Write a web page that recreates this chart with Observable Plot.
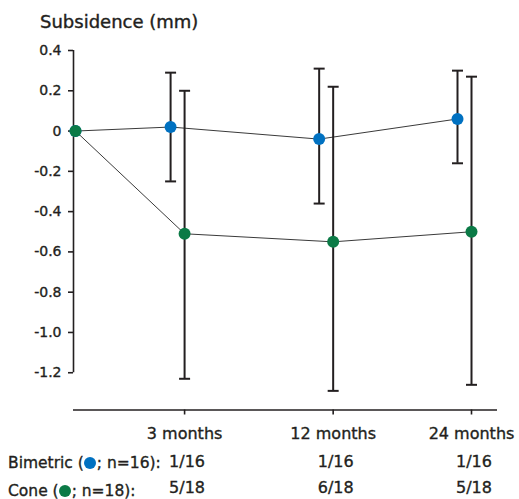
<!DOCTYPE html>
<html>
<head>
<meta charset="utf-8">
<script src="https://cdn.jsdelivr.net/npm/d3@7"></script>
<script src="https://cdn.jsdelivr.net/npm/@observablehq/plot@0.6"></script>
<style>
  html, body { margin: 0; padding: 0; background: #fff; }
  #wrap { position: relative; width: 519px; height: 499px; overflow: hidden; font-family: "DejaVu Sans", sans-serif; color: #231f20; }
  #title { position: absolute; left: 40px; top: 13px; font-size: 18px; line-height: 18px; white-space: nowrap; -webkit-text-stroke: 0.4px #231f20; }
  .row { position: absolute; left: 8px; font-size: 15.5px; line-height: 14px; white-space: nowrap; -webkit-text-stroke: 0.35px #231f20; }
  .dotk { display: inline-block; width: 12px; height: 12px; border-radius: 50%; margin: 0 0.5px; vertical-align: -1px; }
  #chart svg text { stroke: #231f20; stroke-width: 0.35px; }
</style>
</head>
<body>
<div id="wrap">
  <div id="chart"></div>
  <div id="title">Subsidence (mm)</div>
</div>
<script>
// ---- data ----
const months = [0, 3, 12, 24];
const bimetricMean = [0, 0.02, -0.04, 0.06];
const bimetricLow  = [null, -0.25, -0.36, -0.16];
const bimetricHigh = [null, 0.29, 0.31, 0.30];
const coneMean = [0, -0.51, -0.55, -0.50];
const coneLow  = [null, -1.23, -1.29, -1.26];
const coneHigh = [null, 0.20, 0.22, 0.27];

const tickMonths = [3, 12, 24];
const tickLabels = ["3 months", "12 months", "24 months"];
const bimetricRatio = ["1/16", "1/16", "1/16"];
const coneRatio = ["5/18", "6/18", "5/18"];
const yTicks = [0.4, 0.2, 0, -0.2, -0.4, -0.6, -0.8, -1.0, -1.2];
const seriesNames = ["Bimetric", "Cone"];
const seriesN = [16, 18];

// ---- style ----
const ink = "#231f20";
const blue = "#0071c1";
const green = "#0b7a46";
const blueShift = -14;

const W = 519, H = 499;
const yDomain = [-1.385, 0.4];
const xOpts = {type: "pow", exponent: 0.62, domain: [0, 24], range: [75, 471]};
const sx = Plot.scale({x: xOpts});

function build(mean, lo, hi) {
  return months.map((m, i) => ({month: m, mean: mean[i], lo: lo[i], hi: hi[i]}));
}
const bim = build(bimetricMean, bimetricLow, bimetricHigh);
const cone = build(coneMean, coneLow, coneHigh);
const bimErr = bim.filter(d => d.lo != null);
const coneErr = cone.filter(d => d.lo != null);

const bimX = d => d.month === 0 ? 0 : sx.invert(sx.apply(d.month) + blueShift);
const coneX = d => d.month;

const capSymbol = {
  draw(ctx, size) {
    const w = Math.sqrt(size / Math.PI);
    ctx.moveTo(-w, 0);
    ctx.lineTo(w, 0);
  }
};

function errMarks(data, xf) {
  return [
    Plot.ruleX(data, {x: xf, y1: "lo", y2: "hi", stroke: ink, strokeWidth: 2}),
    Plot.dot(data, {x: xf, y: "lo", symbol: capSymbol, r: 5.5, fill: "none", stroke: ink, strokeWidth: 2}),
    Plot.dot(data, {x: xf, y: "hi", symbol: capSymbol, r: 5.5, fill: "none", stroke: ink, strokeWidth: 2})
  ];
}

const chart = Plot.plot({
  width: W,
  height: H,
  marginLeft: 73,
  marginRight: 22,
  marginTop: 50,
  marginBottom: 89.5,
  style: {fontFamily: "DejaVu Sans, sans-serif", color: ink, background: "#fff"},
  x: xOpts,
  y: {domain: yDomain},
  marks: [
    Plot.axisY({ticks: yTicks, tickFormat: d => d === 0 ? "0" : d.toFixed(1), tickSize: 5, tickPadding: 7, fontSize: 14, label: null, stroke: ink, strokeWidth: 1.6}),
    Plot.ruleX([0], {y1: yTicks[yTicks.length - 1], y2: yTicks[0], dx: -2, stroke: ink, strokeWidth: 1.6}),
    Plot.ruleY([yDomain[0]], {stroke: ink, strokeWidth: 1.6}),
    Plot.axisX({ticks: tickMonths, tickFormat: d => tickLabels[tickMonths.indexOf(d)], tickSize: 5, tickPadding: 13, fontSize: 16, label: null, stroke: ink, strokeWidth: 1.6}),
    Plot.line(bim, {x: bimX, y: "mean", stroke: "#3a3a3a", strokeWidth: 1}),
    Plot.line(cone, {x: coneX, y: "mean", stroke: "#3a3a3a", strokeWidth: 1}),
    ...errMarks(bimErr, bimX),
    ...errMarks(coneErr, coneX),
    Plot.dot(bim, {x: bimX, y: "mean", r: 6, fill: blue}),
    Plot.dot(cone, {x: coneX, y: "mean", r: 6, fill: green}),
    Plot.text(tickMonths, {x: d => d, text: (d, i) => bimetricRatio[i], frameAnchor: "bottom", dx: 2.5, dy: 56.6, fontSize: 16, fill: ink}),
    Plot.text(tickMonths, {x: d => d, text: (d, i) => coneRatio[i], frameAnchor: "bottom", dx: 2.5, dy: 83.0, fontSize: 16, fill: ink})
  ]
});
document.getElementById("chart").appendChild(chart);

const rowColors = [blue, green];
const rowTops = [456.4, 484.0];
const wrap = document.getElementById("wrap");
seriesNames.forEach((name, i) => {
  const div = document.createElement("div");
  div.className = "row";
  div.style.top = rowTops[i] + "px";
  div.innerHTML = `${name} (<span class="dotk" style="background:${rowColors[i]}"></span>; n=${seriesN[i]}):`;
  wrap.appendChild(div);
});
</script>
</body>
</html>
